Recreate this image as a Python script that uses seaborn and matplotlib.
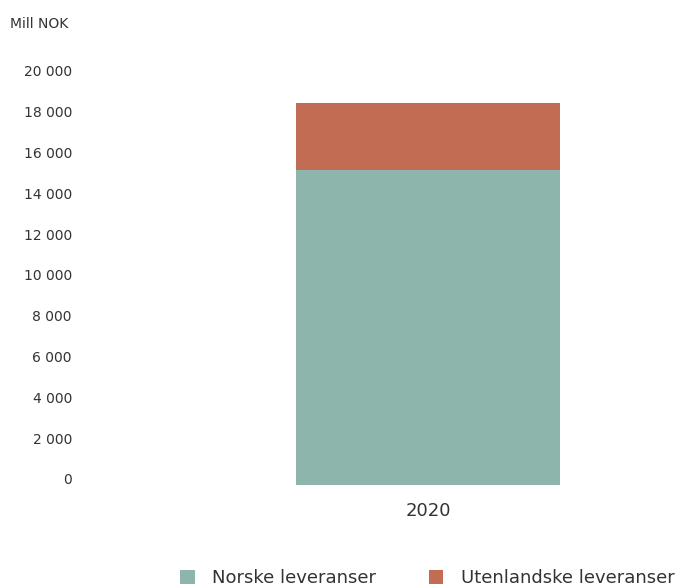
import matplotlib
matplotlib.use("Agg")
import matplotlib.pyplot as plt
from matplotlib.patches import Patch
import seaborn as sns
import pandas as pd

years = ["2020"]
norske = [15440]
utenlandske = [3290]
series_names = ["Norske leveranser", "Utenlandske leveranser"]
colors = ["#8db5ac", "#c36c54"]
yticks = [0, 2000, 4000, 6000, 8000, 10000, 12000, 14000, 16000, 18000, 20000]

sns.set_theme(style="white")
plt.rcParams['font.family'] = ['DejaVu Sans']

W, H = 675, 586
fig = plt.figure(figsize=(W / 100, H / 100), dpi=100)
ax_left, ax_right = 90, 666
ax_top, ax_bottom = 77, 485
ax = fig.add_axes([ax_left / W, 1 - ax_bottom / H, (ax_right - ax_left) / W, (ax_bottom - ax_top) / H])

df = pd.DataFrame({"year": years, "norske": norske, "utenlandske": utenlandske})
df["total"] = df["norske"] + df["utenlandske"]

bw = 264 / (ax_right - ax_left)
sns.barplot(data=df, x="year", y="total", color=colors[1], saturation=1, width=bw, ax=ax, linewidth=0)
sns.barplot(data=df, x="year", y="norske", color=colors[0], saturation=1, width=bw, ax=ax, linewidth=0)

center_frac = (428 - ax_left) / (ax_right - ax_left)
ax.set_xlim(-center_frac, 1 - center_frac)
ax.set_ylim(0, 20000)
ax.set_yticks(yticks)
ax.tick_params(axis="y", length=0, labelleft=False)
ax.tick_params(axis="x", length=0, pad=12, labelsize=13, labelcolor="#333333")
ax.set_xlabel("")
ax.set_ylabel("")
for s in ax.spines.values():
    s.set_visible(False)
ax.grid(False)

# label axis shifted up a few pixels, as in the reference
shift = 6
lab_ax = fig.add_axes([ax_left / W, 1 - (ax_bottom - shift) / H, (ax_right - ax_left) / W, (ax_bottom - ax_top) / H])
lab_ax.patch.set_visible(False)
lab_ax.set_ylim(0, 20000)
lab_ax.set_yticks(yticks)
lab_ax.set_yticklabels([f"{v:,}".replace(",", " ") for v in yticks], fontsize=10, color="#333333")
lab_ax.tick_params(axis="y", length=0, pad=13)
lab_ax.set_xticks([])
for s in lab_ax.spines.values():
    s.set_visible(False)
lab_ax.grid(False)

fig.text(10 / W, 1 - 24 / H, "Mill NOK", fontsize=10, color="#333333", va="center", ha="left")

handles = [Patch(facecolor=c, edgecolor="none") for c in colors]
fig.legend(handles, series_names, loc="center left", bbox_to_anchor=(180 / W, 1 - 578 / H),
           ncol=2, frameon=False, fontsize=13, handlelength=0.83, handleheight=0.83,
           handletextpad=0.95, columnspacing=2.9, labelcolor="#333333", borderpad=0,
           borderaxespad=0)

fig.savefig("out.png", dpi=100)
